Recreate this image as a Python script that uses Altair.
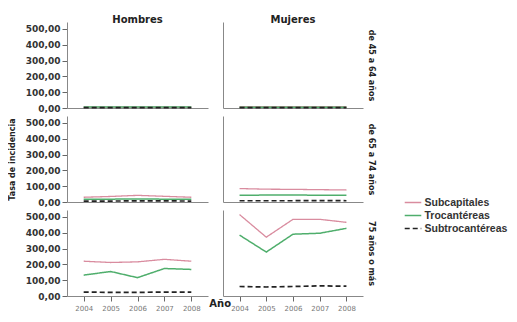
import altair as alt
import pandas as pd

years = [2004, 2005, 2006, 2007, 2008]
series = ["Subcapitales", "Trocantéreas", "Subtrocantéreas"]
sexes = ["Hombres", "Mujeres"]
ages = ["de 45 a 64 años", "de 65 a 74 años", "75 años o más"]
y_ticks = [0, 100, 200, 300, 400, 500]
colors = ["#d98c9f", "#4fae6c", "#222222"]
widths = [1.3, 1.7, 1.8]

# de 45 a 64 años
h45_subcap = [5, 5, 6, 5, 5]
h45_troc = [6, 6, 6, 6, 6]
h45_subtroc = [2, 2, 2, 2, 2]
m45_subcap = [8, 8, 8, 9, 8]
m45_troc = [5, 5, 5, 5, 5]
m45_subtroc = [2, 2, 2, 2, 2]
# de 65 a 74 años
h65_subcap = [30, 35, 42, 36, 30]
h65_troc = [18, 18, 19, 18, 17]
h65_subtroc = [6, 6, 7, 7, 6]
m65_subcap = [85, 81, 80, 78, 76]
m65_troc = [42, 44, 44, 43, 42]
m65_subtroc = [8, 8, 8, 9, 8]
# 75 años o más
h75_subcap = [220, 212, 216, 232, 220]
h75_troc = [132, 155, 116, 174, 168]
h75_subtroc = [25, 23, 23, 25, 24]
m75_subcap = [515, 372, 485, 485, 466]
m75_troc = [385, 278, 391, 397, 428]
m75_subtroc = [60, 57, 60, 64, 62]

panels_data = {
    ("Hombres", ages[0]): [h45_subcap, h45_troc, h45_subtroc],
    ("Mujeres", ages[0]): [m45_subcap, m45_troc, m45_subtroc],
    ("Hombres", ages[1]): [h65_subcap, h65_troc, h65_subtroc],
    ("Mujeres", ages[1]): [m65_subcap, m65_troc, m65_subtroc],
    ("Hombres", ages[2]): [h75_subcap, h75_troc, h75_subtroc],
    ("Mujeres", ages[2]): [m75_subcap, m75_troc, m75_subtroc],
}

rows = []
for (sex, age), vals in panels_data.items():
    for s, v in zip(series, vals):
        for yr, val in zip(years, v):
            rows.append({"sex": sex, "age": age, "series": s, "year": yr, "value": val})
df = pd.DataFrame(rows)

FONT = "DejaVu Sans"
LFONT = "Liberation Sans"
label_expr = "replace(format(datum.value, '.2f'), '.', ',')"


def panel(sex, age, r, c):
    d = df[(df.sex == sex) & (df.age == age)]
    bottom = r == 2
    xaxis = alt.Axis(labels=bottom, ticks=bottom, domain=True, title=None,
                     labelAngle=0, labelFontSize=7, labelColor="#777777",
                     tickColor="#666666", tickSize=5, labelPadding=3)
    if c == 0:
        yaxis = alt.Axis(values=y_ticks, labelExpr=label_expr, title="Tasa de incidencia",
                         titleOpacity=1 if r == 1 else 0, titleFontSize=8,
                         titleFontWeight="bold", titlePadding=9, titleColor="#222222",
                         labelFontSize=9, labelFontWeight="bold", labelColor="#333333",
                         labelPadding=2, tickSize=5, tickColor="#666666", grid=False)
    else:
        yaxis = alt.Axis(values=y_ticks, labels=False, ticks=False, grid=False,
                         title=age, titleAngle=90, titleX=147, titleY=43,
                         titleAlign="center", titleBaseline="middle", titleColor="#222222",
                         titleFontSize=8, titleFontWeight="bold")
    props = dict(width=141 if c == 0 else 140, height=86)
    if r == 0:
        props["title"] = alt.TitleParams(sex, fontSize=10, fontWeight="bold", anchor="middle",
                                         offset=-3, font=FONT, color="#222222")
    ch = alt.Chart(d).mark_line().encode(
        x=alt.X("year:O", scale=alt.Scale(type="point", padding=0.62), axis=xaxis),
        y=alt.Y("value:Q", scale=alt.Scale(domain=[0, 544], nice=False), axis=yaxis),
        color=alt.Color("series:N", scale=alt.Scale(domain=series, range=colors),
                        legend=alt.Legend(title=None)),
        strokeDash=alt.StrokeDash("series:N",
                                  scale=alt.Scale(domain=series, range=[[1, 0], [1, 0], [5, 3]]),
                                  legend=alt.Legend(title=None)),
        strokeWidth=alt.StrokeWidth("series:N", scale=alt.Scale(domain=series, range=widths),
                                    legend=None),
    ).properties(**props)
    return ch


grid_rows = []
for r, age in enumerate(ages):
    grid_rows.append(alt.hconcat(panel("Hombres", age, r, 0), panel("Mujeres", age, r, 1), spacing=15))

chart = alt.vconcat(*grid_rows, spacing=3).properties(
    title=alt.TitleParams("Año", orient="bottom", anchor="start", dx=201, offset=-12,
                          fontSize=10, fontWeight="bold", font=FONT, color="#222222"),
    padding={"left": 0, "top": 7, "right": 0, "bottom": 0},
).configure_view(stroke=None).configure_axis(
    domainColor="#888888", labelFont=FONT, titleFont=FONT,
).configure_legend(
    orient="none", legendX=339, legendY=173.5, labelFont=LFONT, labelFontSize=10.5,
    labelFontWeight="bold", labelColor="#333333", symbolType="M-1.4,0H1.4", symbolSize=140,
    symbolStrokeWidth=1.8, rowPadding=0, labelOffset=4.5,
)

chart.save("out.html", embed_options={"renderer": "svg", "actions": False})
